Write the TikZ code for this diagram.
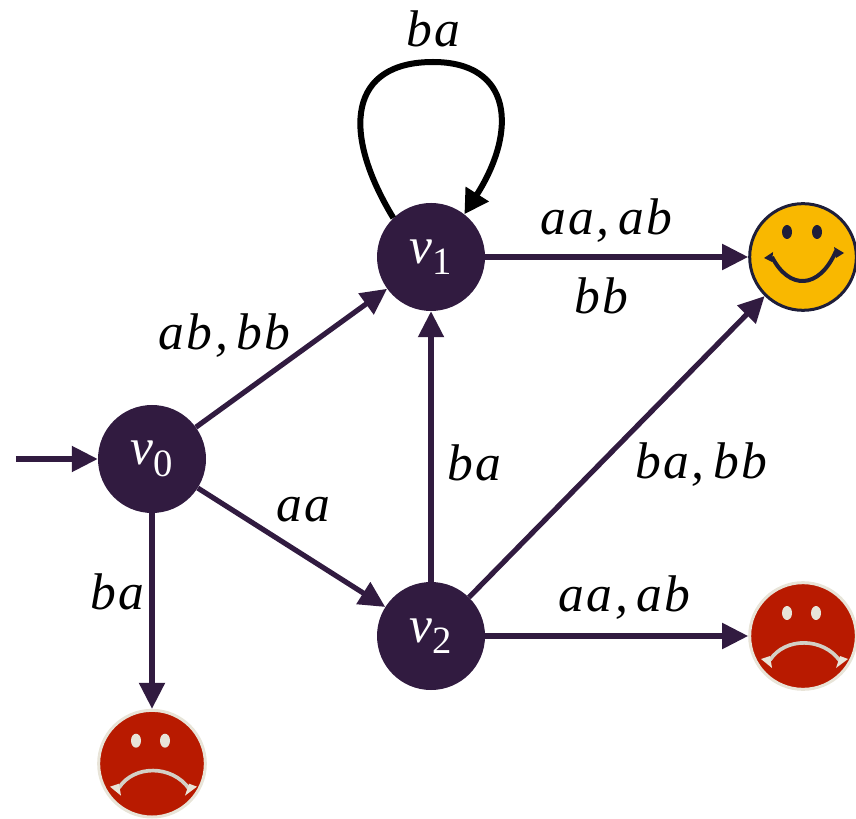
\documentclass[tikz,border=0pt]{standalone}
\usepackage{fontspec}
\setmainfont{Liberation Serif}
\newfontfamily\labfont[LetterSpace=4.5]{Liberation Serif}
\usepackage{tikz}
\usetikzlibrary{arrows.meta,positioning}
\definecolor{StateDark}{HTML}{311B40}
\definecolor{SmileGold}{HTML}{F9B800}
\definecolor{SmileEdge}{HTML}{1E1E3A}
\definecolor{SadRed}{HTML}{B81A00}
\definecolor{SadRing}{HTML}{E8E4D8}
\newcommand{\vname}[1]{\textit{v}\raisebox{-0.22em}{\fontsize{33}{33}\selectfont #1}}

\begin{document}
\begin{tikzpicture}[
    x=0.03cm, y=-0.03cm,
    on grid,
    state/.style={circle, fill=StateDark, text=white, minimum size=3.24cm, inner sep=0pt, font=\fontsize{44}{44}\selectfont},
    happyface/.style={circle, draw=SmileEdge, fill=SmileGold, line width=0.09cm, minimum size=3.2cm, inner sep=0pt},
    sadface/.style={circle, draw=SadRing, fill=SadRed, line width=0.09cm, minimum size=3.2cm, inner sep=0pt},
    arr/.style={-{Triangle[length=0.78cm, width=0.75cm]}, StateDark, line width=0.155cm},
    loopy/.style={-{Triangle[length=0.72cm, width=0.78cm]}, black, line width=0.18cm},
    lab/.style={font=\labfont\fontsize{44}{44}\selectfont\itshape, inner sep=0pt, text=black}
]
    \useasboundingbox (0,0) rectangle (856,819);

    \node[state] (v0) at (152,459) {\vname{0}};
    \node[state, above right=6.06cm and 8.37cm of v0] (v1) {\vname{1}};
    \node[state, below=11.37cm of v1] (v2) {\vname{2}};
    \node[happyface, right=11.16cm of v1] (happy) {};
    \node[sadface, right=11.16cm of v2] (sadA) {};
    \node[sadface, below=9.14cm of v0] (sadB) {};
    \coordinate[left=4.08cm of v0] (start);

    \draw[arr] (start) -- (v0);
    \draw[arr] (v0) -- node[lab, above=1.38cm, pos=0.15]{ab,\,bb} (v1);
    \draw[arr] (v0) -- node[lab, above right=0.3cm and 0.08cm, pos=0.39]{aa} (v2);
    \draw[arr] (v0) -- node[lab, left=0.15cm, pos=0.4]{ba} (sadB);
    \draw[arr] (v2) -- node[lab, right=0.42cm, pos=0.44]{ba} (v1);
    \draw[arr] (v1) -- node[lab, above=0.36cm, pos=0.46]{aa,\,ab}
                       node[lab, below=0.54cm, pos=0.44]{bb} (happy);
    \draw[arr] (v2) -- node[lab, right=1.02cm, pos=0.44]{ba,\,bb} (happy);
    \draw[arr] (v2) -- node[lab, above=0.42cm, pos=0.53]{aa,\,ab} (sadA);
    \draw[loopy] (v1.134) .. controls (340,130) and (350,62) .. (433,62)
        node[lab, above=0.36cm]{ba}
        .. controls (512,62) and (518,130) .. (v1.52);

    % smile
    \begin{scope}[shift={(happy.center)}]
        \fill[SmileEdge] (-16,-25) ellipse (5 and 7) (14,-25) ellipse (5 and 7);
        \draw[SmileEdge, line width=0.12cm] (-31,0) .. controls (-14,33) and (16,33) .. (33,-6);
        \fill[SmileEdge] (-39,1) -- (-30,-5) -- (-31,5) -- cycle;
        \fill[SmileEdge] (41,-4) -- (31,-10) -- (33,1) -- cycle;
    \end{scope}
    % frowns
    \foreach \f in {sadA,sadB} {
        \begin{scope}[shift={(\f.center)}]
            \fill[SadRing] (-16,-23) ellipse (5 and 7) (13,-23) ellipse (5 and 7);
            \draw[SadRing!80!gray, line width=0.11cm] (-33,24) .. controls (-18,1) and (20,1) .. (37,25);
            \fill[SadRing] (-42,23) -- (-33,20) -- (-31,32) -- cycle;
            \fill[SadRing] (45,23) -- (37,20) -- (33,32) -- cycle;
        \end{scope}
    }
\end{tikzpicture}
\end{document}
